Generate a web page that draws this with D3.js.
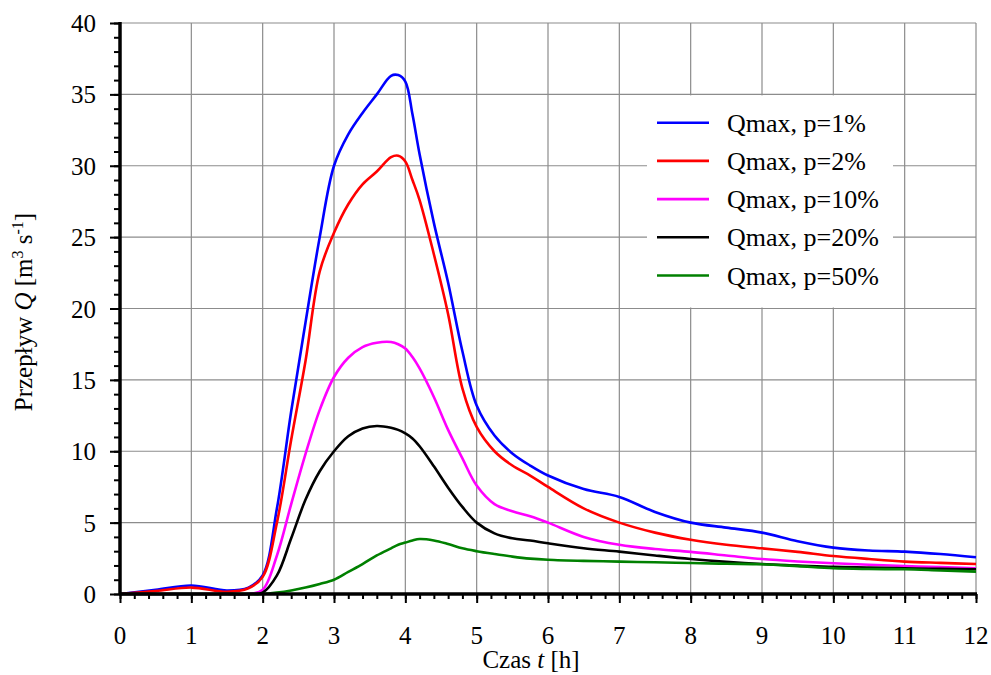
<!DOCTYPE html>
<html lang="pl">
<head>
<meta charset="UTF-8">
<title>Przepływ Qmax</title>
<script src="https://d3js.org/d3.v7.min.js"></script>
<style>
    body { margin: 0; background: #fff; }
    svg text { font-family: "Liberation Serif", "Times New Roman", serif; fill: #000; }
</style>
</head>
<body>
<svg width="991" height="675" font-family="Liberation Serif"></svg>
<script>
    // time [h]
    var czas = [0, 0.5, 1, 1.5, 1.8, 2, 2.2, 2.4, 2.6, 2.8, 3, 3.2, 3.4, 3.6, 3.8, 3.9, 4, 4.1, 4.2, 4.4, 4.6, 4.8,
        5, 5.25, 5.5, 5.75, 6, 6.5, 7, 7.5, 8, 8.5, 9, 9.5, 10, 10.5, 11, 11.5, 12];

    var p1 = [0, 0.3, 0.6, 0.25, 0.45, 1.3, 6.0, 12.8, 19.0, 25.0, 30, 32.2, 33.7, 35.0, 36.3, 36.35, 35.9, 33.6, 30.8, 26, 21.8, 17.0,
        13.2, 11.1, 9.85, 9.0, 8.3, 7.35, 6.8, 5.75, 5.0, 4.65, 4.3, 3.7, 3.25, 3.05, 2.97, 2.8, 2.57];
    var p2 = [0, 0.2, 0.45, 0.15, 0.4, 1.2, 5.0, 10.8, 16.3, 22.6, 25.3, 27.3, 28.7, 29.6, 30.6, 30.7, 30.3, 29.0, 27.6, 23.8, 19.6, 14.4,
        11.7, 10.0, 9.0, 8.3, 7.5, 6.0, 5.0, 4.3, 3.8, 3.45, 3.2, 2.95, 2.66, 2.45, 2.27, 2.18, 2.1];
    var p10 = [0, 0, 0, 0, 0, 0.3, 2.7, 6.3, 9.8, 12.9, 15.2, 16.55, 17.3, 17.6, 17.65, 17.5, 17.2, 16.6, 15.8, 13.8, 11.5, 9.5,
        7.6, 6.3, 5.8, 5.45, 5.0, 4.0, 3.45, 3.15, 2.95, 2.7, 2.45, 2.28, 2.15, 2.05, 1.96, 1.88, 1.8];
    var p20 = [0, 0, 0, 0, 0, 0.1, 1.3, 3.9, 6.6, 8.6, 10.0, 11.05, 11.6, 11.77, 11.65, 11.5, 11.25, 10.9, 10.35, 8.95, 7.45, 6.1,
        5.0, 4.25, 3.9, 3.75, 3.55, 3.2, 2.97, 2.7, 2.45, 2.25, 2.1, 2.0, 1.9, 1.85, 1.8, 1.76, 1.73];
    var p50 = [0, 0, 0, 0, 0, 0, 0.1, 0.25, 0.45, 0.7, 1.0, 1.55, 2.1, 2.7, 3.2, 3.45, 3.6, 3.75, 3.85, 3.75, 3.5, 3.2,
        3.0, 2.8, 2.62, 2.48, 2.4, 2.32, 2.27, 2.22, 2.17, 2.12, 2.08, 1.95, 1.8, 1.75, 1.73, 1.65, 1.57];

    var nazwy = ["Qmax, p=1%", "Qmax, p=2%", "Qmax, p=10%", "Qmax, p=20%", "Qmax, p=50%"];
    var kolory = ["#0000ff", "#ff0000", "#ff00ff", "#000000", "#008000"];
    var serie = [p1, p2, p10, p20, p50];

    var xTicks = d3.range(0, 13, 1);
    var yTicks = d3.range(0, 41, 5);

    var svg = d3.select("svg");
    var mLeft = 120, mRight = 976, mTop = 23, mBottom = 594;

    var x = d3.scaleLinear().domain([0, 12]).range([mLeft, mRight]);
    var y = d3.scaleLinear().domain([0, 40]).range([mBottom, mTop]);

    // grid
    var grid = svg.append("g").attr("stroke", "#8c8c8c").attr("stroke-width", 1.2);
    grid.selectAll("line.gx").data(xTicks).enter().append("line")
        .attr("x1", function (d) { return x(d); }).attr("x2", function (d) { return x(d); })
        .attr("y1", mTop).attr("y2", mBottom);
    grid.selectAll("line.gy").data(yTicks).enter().append("line")
        .attr("y1", function (d) { return y(d); }).attr("y2", function (d) { return y(d); })
        .attr("x1", mLeft).attr("x2", mRight);

    // legend box (covers grid)
    svg.append("rect")
        .attr("x", 647).attr("y", y(35) + 1).attr("width", 246).attr("height", y(20) - y(35) - 2)
        .attr("fill", "#fff");

    // curves
    var line = d3.line()
        .x(function (d, i) { return x(czas[i]); })
        .y(function (d) { return y(Math.max(0, d)); })
        .curve(d3.curveCatmullRom.alpha(0.5));

    svg.selectAll("path.seria").data(serie).enter().append("path")
        .attr("class", "seria")
        .attr("d", line)
        .attr("fill", "none")
        .attr("stroke", function (d, i) { return kolory[i]; })
        .attr("stroke-width", 2.6);

    // axes
    var gx = svg.append("g").attr("transform", "translate(0," + mBottom + ")");
    gx.call(d3.axisBottom(x).ticks(60).tickSize(5).tickFormat(""));
    gx.append("g").call(d3.axisBottom(x).tickValues(xTicks).tickSize(9).tickFormat(""));
    gx.selectAll(".domain").remove();
    gx.selectAll("line").attr("stroke", "#000").attr("stroke-width", 2);

    var gy = svg.append("g").attr("transform", "translate(" + mLeft + ",0)");
    gy.call(d3.axisLeft(y).ticks(40).tickSize(6).tickFormat(""));
    gy.append("g").call(d3.axisLeft(y).tickValues(yTicks).tickSize(10).tickFormat(""));
    gy.selectAll(".domain").remove();
    gy.selectAll("line").attr("stroke", "#000").attr("stroke-width", 2);

    svg.append("line").attr("x1", mLeft - 1).attr("x2", mRight + 1).attr("y1", mBottom).attr("y2", mBottom)
        .attr("stroke", "#000").attr("stroke-width", 3.5);
    svg.append("line").attr("x1", mLeft).attr("x2", mLeft).attr("y1", mTop - 1).attr("y2", mBottom + 1)
        .attr("stroke", "#000").attr("stroke-width", 3.5);

    // tick labels
    svg.selectAll("text.xl").data(xTicks).enter().append("text")
        .attr("class", "xl")
        .attr("x", function (d) { return x(d); }).attr("y", 644)
        .attr("text-anchor", "middle").attr("font-size", 25)
        .text(function (d) { return d; });
    svg.selectAll("text.yl").data(yTicks).enter().append("text")
        .attr("class", "yl")
        .attr("x", 96).attr("y", function (d) { return y(d) + 9; })
        .attr("text-anchor", "end").attr("font-size", 25)
        .text(function (d) { return d; });

    // axis titles
    var tx = svg.append("text").attr("x", 531).attr("y", 668)
        .attr("text-anchor", "middle").attr("font-size", 25);
    tx.append("tspan").text("Czas ");
    tx.append("tspan").attr("font-style", "italic").text("t");
    tx.append("tspan").text(" [h]");

    var ty = svg.append("text").attr("transform", "translate(32,312) rotate(-90)")
        .attr("text-anchor", "middle").attr("font-size", 25);
    ty.append("tspan").text("Przepływ ");
    ty.append("tspan").attr("font-style", "italic").text("Q");
    ty.append("tspan").text(" [m");
    ty.append("tspan").attr("font-size", 16).attr("dy", -9).text("3");
    ty.append("tspan").attr("dy", 9).text(" s");
    ty.append("tspan").attr("font-size", 16).attr("dy", -9).text("-1");
    ty.append("tspan").attr("dy", 9).text("]");

    // legend
    var lg = svg.append("g");
    nazwy.forEach(function (n, i) {
        var yy = 122.7 + i * 38.2;
        lg.append("line").attr("x1", 657).attr("x2", 709).attr("y1", yy).attr("y2", yy)
            .attr("stroke", kolory[i]).attr("stroke-width", 2.6);
        lg.append("text").attr("x", 727).attr("y", yy + 9).attr("font-size", 26).text(n);
    });
</script>
</body>
</html>
